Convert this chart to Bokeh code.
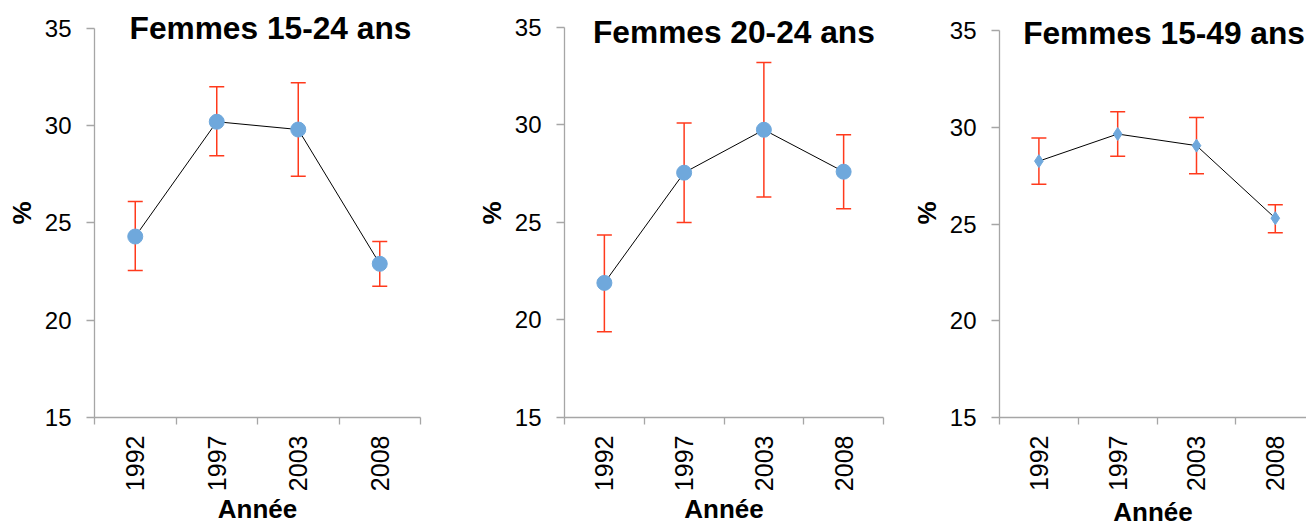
import math
from bokeh.plotting import figure
from bokeh.models import (ColumnDataSource, Range1d, FixedTicker, Whisker, TeeHead, Label)
from bokeh.layouts import row
from bokeh.embed import file_html
from bokeh.resources import INLINE

# ---- data ----
years = ["1992", "1997", "2003", "2008"]

titles = ["Femmes 15-24 ans", "Femmes 20-24 ans", "Femmes 15-49 ans"]

v_15_24 = [24.3, 30.2, 29.8, 22.9]
lo_15_24 = [22.55, 28.45, 27.4, 21.75]
hi_15_24 = [26.1, 32.0, 32.2, 24.05]

v_20_24 = [21.9, 27.55, 29.75, 27.6]
lo_20_24 = [19.4, 25.0, 26.3, 25.7]
hi_20_24 = [24.35, 30.1, 33.2, 29.5]

v_15_49 = [28.25, 29.65, 29.05, 25.3]
lo_15_49 = [27.05, 28.5, 27.6, 24.55]
hi_15_49 = [29.45, 30.8, 30.5, 26.0]

y_ticks = [15, 20, 25, 30, 35]

FONT = "Liberation Sans"
BLUE = "#6fa8dc"
RED = "#ff3a1c"
GRAY = "#a6a6a6"


def make_panel(title, vals, lo, hi, marker, msize, w, h, bl, br, bt, bb,
               x_end, y_end, title_x, title_y, xlab_standoff):
    xs = [i + 0.5 for i in range(len(years))]
    src = ColumnDataSource(dict(x=xs, y=vals, lower=lo, upper=hi))
    p = figure(width=w, height=h, output_backend="svg", toolbar_location=None,
               x_range=Range1d(0, x_end), y_range=Range1d(15, y_end),
               min_border_left=bl, min_border_right=br, min_border_top=bt,
               min_border_bottom=bb)
    p.outline_line_color = None
    p.xgrid.visible = False
    p.ygrid.visible = False
    p.background_fill_color = "white"
    p.border_fill_color = "white"

    # y axis
    ya = p.yaxis[0]
    ya.bounds = (15, 35)
    ya.ticker = FixedTicker(ticks=y_ticks, minor_ticks=[])
    ya.axis_line_color = GRAY
    ya.axis_line_width = 1.3
    ya.major_tick_line_color = GRAY
    ya.major_tick_line_width = 1.3
    ya.major_tick_out = 8
    ya.major_tick_in = 0
    ya.minor_tick_line_color = None
    ya.major_label_text_font = FONT
    ya.major_label_text_font_size = "24px"
    ya.major_label_text_color = "#000000"
    ya.major_label_standoff = 15
    ya.axis_label = "%"
    ya.axis_label_text_font = FONT
    ya.axis_label_text_font_style = "bold"
    ya.axis_label_text_font_size = "26px"
    ya.axis_label_text_color = "#000000"
    ya.axis_label_standoff = 5

    # x axis
    xa = p.xaxis[0]
    xa.ticker = FixedTicker(ticks=xs, minor_ticks=[0, 1, 2, 3, 4])
    xa.major_label_overrides = {x: y for x, y in zip(xs, years)}
    xa.axis_line_color = GRAY
    xa.axis_line_width = 1.3
    xa.major_tick_line_color = None
    xa.major_tick_out = 0
    xa.major_tick_in = 0
    xa.minor_tick_line_color = GRAY
    xa.minor_tick_line_width = 1.3
    xa.minor_tick_out = 7
    xa.minor_tick_in = 0
    xa.major_label_orientation = math.pi / 2
    xa.major_label_text_font = FONT
    xa.major_label_text_font_size = "25px"
    xa.major_label_text_color = "#000000"
    xa.major_label_standoff = 11
    xa.axis_label = "Année"
    xa.axis_label_text_font = FONT
    xa.axis_label_text_font_style = "bold"
    xa.axis_label_text_font_size = "26px"
    xa.axis_label_text_color = "#000000"
    xa.axis_label_standoff = xlab_standoff

    wsk = Whisker(source=src, base="x", upper="upper", lower="lower", dimension="height",
                  line_color=RED, line_width=1.5,
                  upper_head=TeeHead(size=15, line_color=RED, line_width=1.5),
                  lower_head=TeeHead(size=15, line_color=RED, line_width=1.5),
                  level="underlay")
    p.add_layout(wsk)

    p.line("x", "y", source=src, line_color="black", line_width=1)
    p.scatter("x", "y", source=src, marker=marker, size=msize,
              fill_color=BLUE, line_color=BLUE)

    p.add_layout(Label(x=title_x, y=title_y, text=title, text_font=FONT,
                       text_font_style="bold", text_font_size="31.7px", text_color="#000000",
                       text_align="left", text_baseline="middle"))
    return p


p1 = make_panel(titles[0], v_15_24, lo_15_24, hi_15_24, "circle", 15,
                470, 530, 94, 50, 8, 110, 4, 36.02, 0.43, 35.0, 0)
p2 = make_panel(titles[1], v_20_24, lo_20_24, hi_20_24, "circle", 15,
                435, 530, 94, 22, 8, 110, 4, 35.967, 0.357, 34.75, 0)
p3 = make_panel(titles[2], v_15_49, lo_15_49, hi_15_49, "diamond", 13,
                401, 530, 94, 0, 8, 113, 3.896, 36.137, 0.30, 34.85, 3)

layout = row(p1, p2, p3)
open("out.html", "w").write(file_html(layout, INLINE))
